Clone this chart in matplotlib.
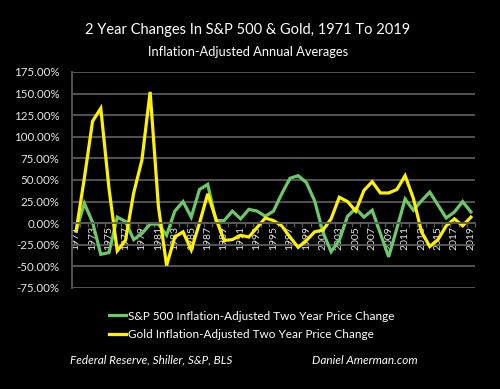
import matplotlib
matplotlib.use("Agg")
import matplotlib.pyplot as plt
from matplotlib.ticker import FixedLocator, FuncFormatter

years = list(range(1971, 2020))
sp500 = [-9, 23, 1, -36, -34, 7, 2, -19, -12, -1, -1, -14, 14, 25, 7, 39, 45, 3, 3, 14,
         5, 16, 14, 8, 14, 34, 52, 55, 47, 26, -10, -33, -20, 8, 17, 7, 15, -12, -39, -6,
         28, 15, 26, 36, 21, 6, 13, 25, 13]
gold = [-9, 52, 118, 133, 40, -32, -20, 35, 73, 152, 20, -49, -16, -10, -31, 0, 34, 5, -20, -19,
        -14, -16, -5, 6, 3, -3, -16, -28, -20, -10, -8, 5, 30, 25, 14, 38, 48, 35, 35, 39,
        55, 29, -10, -27, -19, -3, 5, -3, 7]
ytick_vals = [-75, -50, -25, 0, 25, 50, 75, 100, 125, 150, 175]
xtick_labels = [str(y) for y in years if (y - 1971) % 2 == 0]

title = "2 Year Changes In S&P 500 & Gold, 1971 To 2019"
subtitle = "Inflation-Adjusted Annual Averages"
leg_sp = "S&P 500 Inflation-Adjusted Two Year Price Change"
leg_gold = "Gold Inflation-Adjusted Two Year Price Change"
src = "Federal Reserve, Shiller, S&P, BLS"
site = "Daniel Amerman.com"

plt.rcParams['font.family'] = ['Lato', 'DejaVu Sans']
GREEN = "#6cc96a"
YELLOW = "#fff200"
GRID = "#595959"

fig = plt.figure(figsize=(5, 3.89), dpi=100, facecolor="black")
ax = fig.add_axes([72/500, 1-288/389, 403/500, 216/389])
ax.set_facecolor("black")

ax.set_ylim(-75, 175)
ax.set_xlim(1970.5, 2019.5)
ax.yaxis.set_major_locator(FixedLocator(ytick_vals))
ax.yaxis.set_major_formatter(FuncFormatter(lambda v, p: f"{v:.2f}%"))
ax.grid(axis='y', color=GRID, linewidth=1.3)
ax.set_axisbelow(True)

for s in ['top', 'right']:
    ax.spines[s].set_visible(False)
ax.spines['left'].set_color(GRID)
ax.spines['left'].set_linewidth(1.3)
ax.spines['bottom'].set_position(('data', 0))
ax.spines['bottom'].set_color(GRID)
ax.spines['bottom'].set_linewidth(1.3)

ax.tick_params(axis='y', length=0, labelsize=8.3, pad=9, labelcolor='#e8e8e8')
major_x = [y for y in years if (y - 1971) % 2 == 0]
ax.xaxis.set_major_locator(FixedLocator(major_x))
ax.set_xticklabels(xtick_labels, rotation=90, fontsize=7.5, color='#e8e8e8')
ax.tick_params(axis='x', which='major', length=0, pad=2)
ax.xaxis.set_minor_locator(FixedLocator([1970.5 + k for k in range(50)]))
ax.tick_params(axis='x', which='minor', length=3, color=GRID, width=1)

l1, = ax.plot(years, sp500, color=GREEN, linewidth=2.3, solid_joinstyle='miter')
l2, = ax.plot(years, gold, color=YELLOW, linewidth=2.3, solid_joinstyle='miter')

fig.text(248/500, 1-30/389, title, ha='center', va='center', color='white', fontsize=10.5)
fig.text(248/500, 1-52/389, subtitle, ha='center', va='center', color='white', fontsize=9.3)

leg = fig.legend([l1, l2], [leg_sp, leg_gold], loc='upper left',
                 bbox_to_anchor=(98/500, 1-300/389), frameon=False,
                 handlelength=1.5, handletextpad=0.1, labelspacing=0.6, fontsize=8.5)
for t in leg.get_texts():
    t.set_color('white')

fig.text(70/500, 1-360/389, src, ha='left', va='center', color='white', fontsize=8.5, style='italic')
fig.text(312/500, 1-360/389, site, ha='left', va='center', color='white', fontsize=8.5, style='italic')

fig.savefig("out.png", dpi=100, facecolor="black")
